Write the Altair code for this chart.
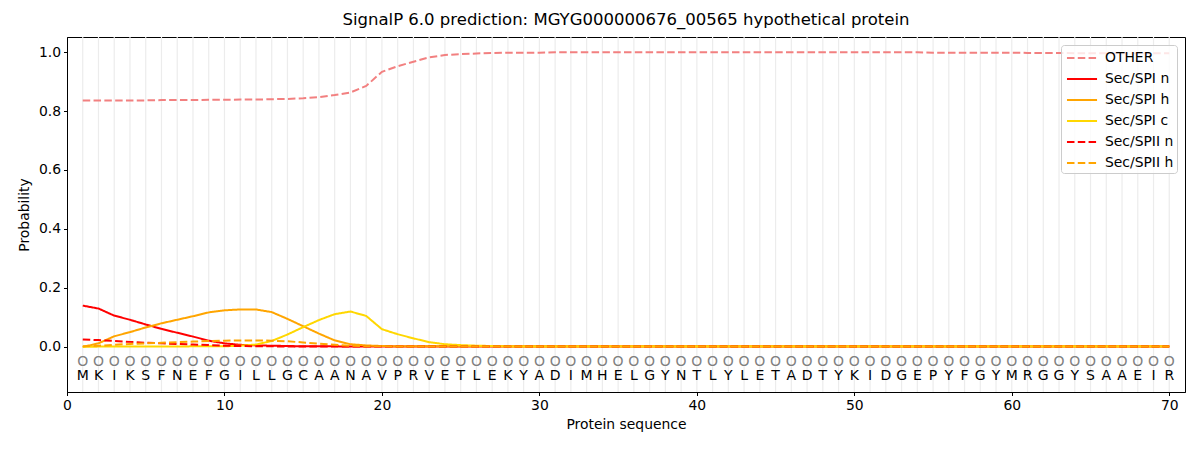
import altair as alt
import pandas as pd

sequence = list("MKIKSFNEFGILLGCAANAVPRVETLEKYADIMHELGYNTLYLETADTYKIDGEPYFGYMRGGYSAAEIR")
positions = list(range(1, len(sequence) + 1))

other = [0.836, 0.836, 0.836, 0.836, 0.836, 0.837, 0.837, 0.837, 0.838, 0.838,
         0.839, 0.839, 0.840, 0.841, 0.843, 0.847, 0.854, 0.863, 0.885, 0.933,
         0.952, 0.967, 0.982, 0.990, 0.993, 0.995, 0.997, 0.998, 0.998, 0.998,
         0.999, 0.999, 0.999, 0.999, 0.999, 0.999, 0.999, 0.999, 0.999, 0.999,
         0.999, 0.999, 0.999, 0.999, 0.999, 0.999, 0.999, 0.999, 0.999, 0.999,
         0.999, 0.999, 0.999, 0.999, 0.998, 0.998, 0.998, 0.998, 0.998, 0.998,
         0.997, 0.997, 0.997, 0.996, 0.996, 0.996, 0.996, 0.996, 0.996, 0.996]

spi_n = [0.140, 0.130, 0.106, 0.092, 0.076, 0.061, 0.048, 0.035, 0.021, 0.012,
         0.007, 0.005, 0.004, 0.003, 0.002, 0.002, 0.002, 0.001, 0.001, 0.001,
         0.001, 0.001, 0.001, 0.001, 0.001, 0.001, 0.001, 0.001, 0.001, 0.001,
         0.001, 0.001, 0.001, 0.001, 0.001, 0.001, 0.001, 0.001, 0.001, 0.001,
         0.001, 0.001, 0.001, 0.001, 0.001, 0.001, 0.001, 0.001, 0.001, 0.001,
         0.001, 0.001, 0.001, 0.001, 0.001, 0.001, 0.001, 0.001, 0.001, 0.001,
         0.001, 0.001, 0.001, 0.001, 0.001, 0.001, 0.001, 0.001, 0.001, 0.001]

spi_h = [0.000, 0.012, 0.036, 0.050, 0.066, 0.080, 0.092, 0.104, 0.117, 0.124,
         0.127, 0.127, 0.118, 0.095, 0.070, 0.045, 0.022, 0.009, 0.005, 0.003,
         0.002, 0.002, 0.002, 0.002, 0.002, 0.002, 0.002, 0.002, 0.002, 0.002,
         0.002, 0.002, 0.002, 0.002, 0.002, 0.002, 0.002, 0.002, 0.002, 0.002,
         0.002, 0.002, 0.002, 0.002, 0.002, 0.002, 0.002, 0.002, 0.002, 0.002,
         0.002, 0.002, 0.002, 0.002, 0.002, 0.002, 0.002, 0.002, 0.002, 0.002,
         0.002, 0.002, 0.002, 0.002, 0.002, 0.002, 0.002, 0.002, 0.002, 0.002]

spi_c = [0.000, 0.001, 0.001, 0.001, 0.001, 0.001, 0.001, 0.002, 0.002, 0.002,
         0.004, 0.008, 0.020, 0.042, 0.067, 0.091, 0.111, 0.120, 0.105, 0.060,
         0.043, 0.029, 0.016, 0.009, 0.006, 0.004, 0.003, 0.002, 0.001, 0.001,
         0.001, 0.001, 0.001, 0.001, 0.001, 0.001, 0.001, 0.001, 0.001, 0.001,
         0.001, 0.001, 0.001, 0.001, 0.001, 0.001, 0.001, 0.001, 0.001, 0.001,
         0.001, 0.001, 0.001, 0.001, 0.001, 0.001, 0.001, 0.001, 0.001, 0.001,
         0.001, 0.001, 0.001, 0.001, 0.001, 0.001, 0.001, 0.001, 0.001, 0.001]

spii_n = [0.025, 0.023, 0.020, 0.017, 0.014, 0.012, 0.010, 0.008, 0.006, 0.004,
          0.003, 0.002, 0.002, 0.001, 0.001, 0.001, 0.001, 0.001, 0.001, 0.001,
          0.001, 0.001, 0.001, 0.001, 0.001, 0.001, 0.001, 0.001, 0.001, 0.001,
          0.001, 0.001, 0.001, 0.001, 0.001, 0.001, 0.001, 0.001, 0.001, 0.001,
          0.001, 0.001, 0.001, 0.001, 0.001, 0.001, 0.001, 0.001, 0.001, 0.001,
          0.001, 0.001, 0.001, 0.001, 0.001, 0.001, 0.001, 0.001, 0.001, 0.001,
          0.001, 0.001, 0.001, 0.001, 0.001, 0.001, 0.001, 0.001, 0.001, 0.001]

spii_h = [0.002, 0.004, 0.007, 0.010, 0.012, 0.014, 0.016, 0.018, 0.020, 0.021,
          0.022, 0.022, 0.021, 0.019, 0.015, 0.011, 0.007, 0.004, 0.002, 0.002,
          0.001, 0.001, 0.001, 0.001, 0.001, 0.001, 0.001, 0.001, 0.001, 0.001,
          0.001, 0.001, 0.001, 0.001, 0.001, 0.001, 0.001, 0.001, 0.001, 0.001,
          0.001, 0.001, 0.001, 0.001, 0.001, 0.001, 0.001, 0.001, 0.001, 0.001,
          0.001, 0.001, 0.001, 0.001, 0.001, 0.001, 0.001, 0.001, 0.001, 0.001,
          0.001, 0.001, 0.001, 0.001, 0.001, 0.001, 0.001, 0.001, 0.001, 0.001]

series_names = ["OTHER", "Sec/SPI n", "Sec/SPI h", "Sec/SPI c", "Sec/SPII n", "Sec/SPII h"]
series_values = [other, spi_n, spi_h, spi_c, spii_n, spii_h]
series_colors = ["#f28080", "#ff0000", "#ffa500", "#ffd700", "#ff0000", "#ffa500"]
dash = [7.5, 3.3]
solid = [1, 0]
series_dashes = [dash, solid, solid, solid, dash, dash]

rows = []
for order, (name, vals) in enumerate(zip(series_names, series_values)):
    for p, v in zip(positions, vals):
        rows.append({"pos": p, "value": v, "series": name, "order": order})
lines_df = pd.DataFrame(rows)
seq_df = pd.DataFrame({"pos": positions, "res": sequence, "pred": ["O"] * len(sequence)})

FONT = "DejaVu Sans"

x_scale = alt.Scale(domain=[0, 71], nice=False, zero=False)
y_scale = alt.Scale(domain=[-0.153, 1.051], nice=False, zero=False)

x_axis = alt.Axis(values=[0, 10, 20, 30, 40, 50, 60, 70], format="d", title="Protein sequence",
                  grid=False, tickSize=3.5, labelPadding=3, titlePadding=5, labelFlush=False)
y_axis = alt.Axis(values=[0, 0.2, 0.4, 0.6, 0.8, 1.0], format=".1f", title="Probability",
                  grid=False, tickSize=3.5, labelPadding=3, titlePadding=7, labelFlush=False)

grid = alt.Chart(seq_df).mark_rule(color="#ececec", strokeWidth=1.2).encode(
    x=alt.X("pos:Q", scale=x_scale, axis=x_axis)
)

lines = alt.Chart(lines_df).mark_line(strokeWidth=2).encode(
    x=alt.X("pos:Q", scale=x_scale, axis=x_axis),
    y=alt.Y("value:Q", scale=y_scale, axis=y_axis),
    color=alt.Color("series:N", scale=alt.Scale(domain=series_names, range=series_colors),
                    sort=series_names, title=None),
    strokeDash=alt.StrokeDash("series:N", scale=alt.Scale(domain=series_names, range=series_dashes),
                              sort=series_names, title=None),
    order=alt.Order("order:Q"),
)

pred_text = alt.Chart(seq_df).mark_text(font=FONT, fontSize=14, color="#808080", baseline="middle").encode(
    x=alt.X("pos:Q", scale=x_scale),
    y=alt.datum(-0.05, scale=y_scale),
    text="pred:N",
)

res_text = alt.Chart(seq_df).mark_text(font=FONT, fontSize=14, color="black", baseline="middle").encode(
    x=alt.X("pos:Q", scale=x_scale),
    y=alt.datum(-0.10, scale=y_scale),
    text="res:N",
)

chart = alt.layer(grid, lines, pred_text, res_text).properties(
    width=1118,
    height=355,
    title=alt.Title("SignalP 6.0 prediction: MGYG000000676_00565 hypothetical protein",
                    fontSize=16.5, font=FONT, fontWeight="normal", anchor="middle", offset=8, color="black"),
    autosize=alt.AutoSizeParams(type="none"),
    padding={"left": 59, "top": 29, "right": 7, "bottom": 50},
).configure_view(
    stroke="black", strokeWidth=1
).configure_axis(
    labelFont=FONT, titleFont=FONT, labelFontSize=13.9, titleFontSize=13.9,
    labelColor="black", titleColor="black", tickColor="black", domainColor="black",
    titleFontWeight="normal", domainWidth=1, tickWidth=1
).configure_legend(
    orient="none", legendX=994, legendY=8,
    labelFont=FONT, labelFontSize=13.9, labelColor="black",
    symbolType="M-0.78,0H2.56", symbolSize=324, symbolStrokeWidth=2,
    labelOffset=21, rowPadding=4, padding=3,
    strokeColor="#cccccc", fillColor="rgba(255,255,255,0.8)", cornerRadius=3,
)

chart.save("out.html", embed_options={"renderer": "svg", "actions": False})
